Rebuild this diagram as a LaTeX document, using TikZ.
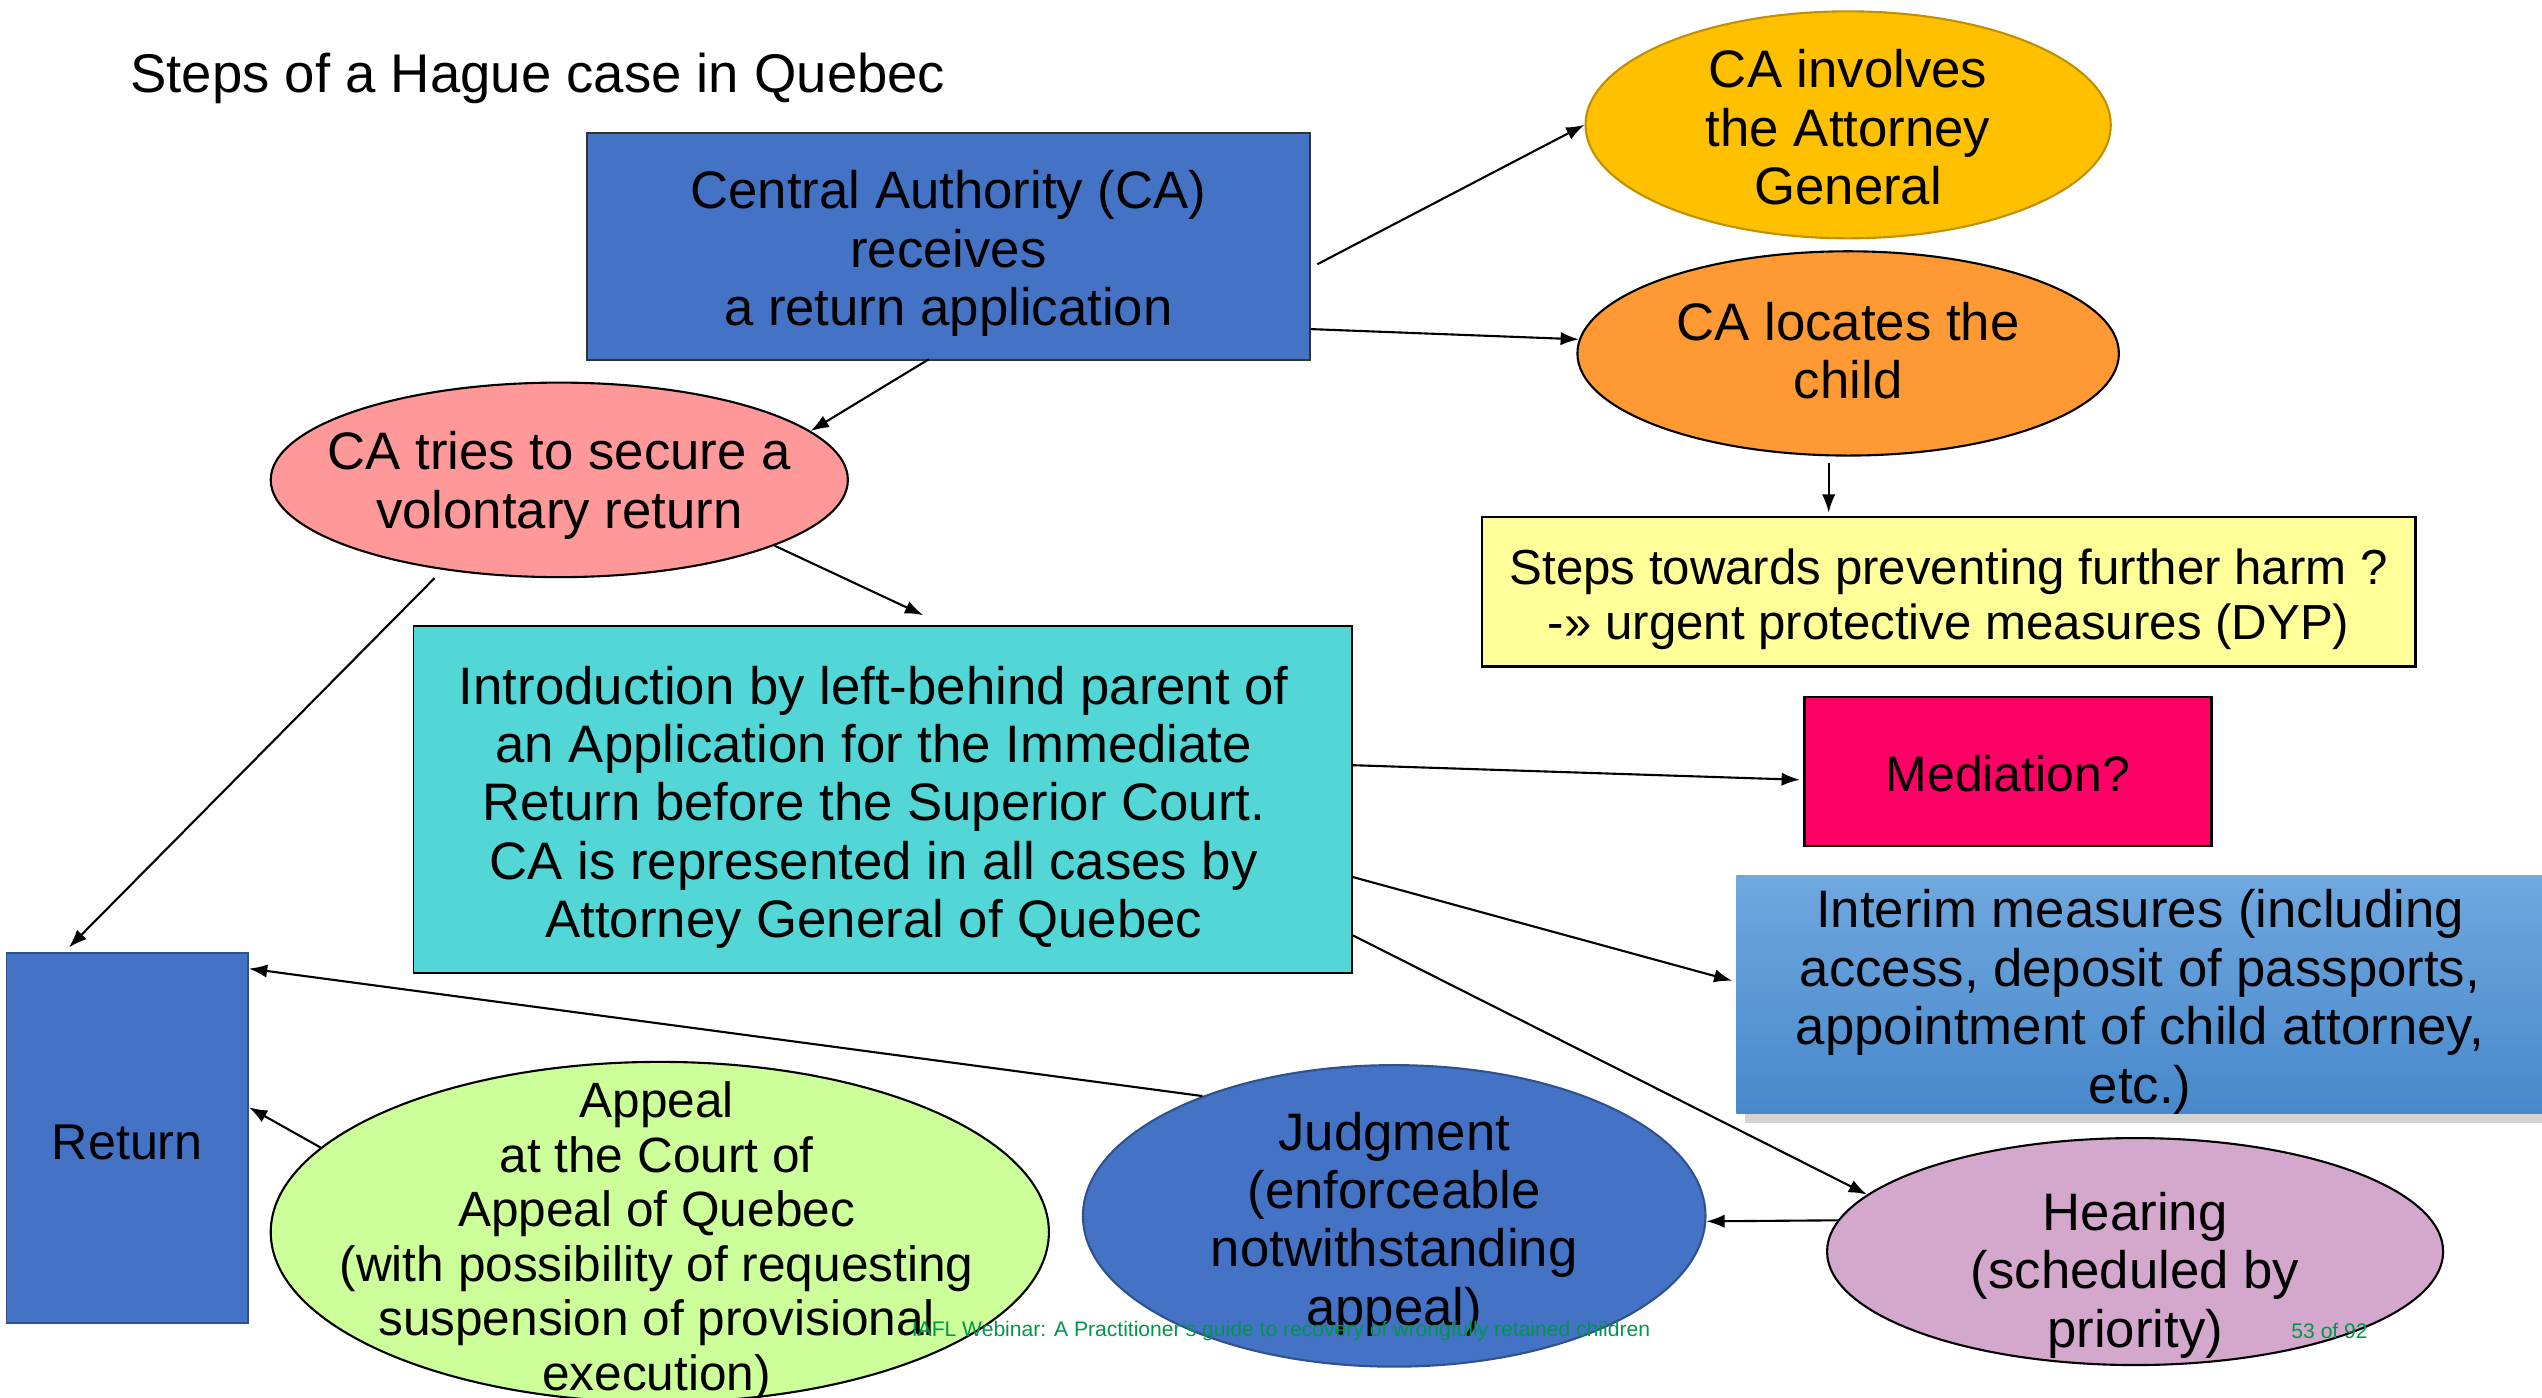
\documentclass[tikz,border=0pt]{standalone}
\usepackage{fontspec}
\setmainfont{Liberation Sans}
\usetikzlibrary{shapes.geometric,arrows.meta,shadows,calc}
\definecolor{cablue}{HTML}{4472C4}
\definecolor{cablueb}{HTML}{2F528F}
\definecolor{gold}{HTML}{FFC000}
\definecolor{goldb}{HTML}{BF9000}
\definecolor{orng}{HTML}{FF9933}
\definecolor{yel}{HTML}{FFFF99}
\definecolor{pinkf}{HTML}{FF9999}
\definecolor{teal2}{HTML}{52D6D6}
\definecolor{medc}{HTML}{FF0066}
\definecolor{intt}{HTML}{70A8DE}
\definecolor{intb}{HTML}{4788CC}
\definecolor{appc}{HTML}{CCFF99}
\definecolor{hear}{HTML}{D4A8CC}
\definecolor{foot}{HTML}{00964A}
\newcommand\fs{\fontsize{15pt}{16.6pt}\selectfont}
\newcommand\fsa{\fontsize{14.1pt}{15.5pt}\selectfont}
\def\U{0.01621cm}
\tikzset{
 box/.style={draw, rectangle, inner sep=0pt, line width=0.5pt},
 ell/.style={draw, ellipse, inner sep=0pt, line width=0.6pt},
 txt/.style={align=center, font=\fs, inner sep=0pt, yshift=-1.6pt},
 arr/.style={-{Latex[length=5.2pt,width=3.8pt]}, line width=0.6pt},
}
\begin{document}
\begin{tikzpicture}[x=0.01621cm,y=-0.01621cm]
\useasboundingbox (0,0) rectangle (1568,862);
% title
\node[txt, font=\fontsize{15.5pt}{17pt}\selectfont, anchor=west] (title) at (80,45) {Steps of a Hague case in Quebec};
% Central Authority
\node[box, fill=cablue, draw=black!80, minimum width=446*\U, minimum height=140*\U] (ca) at (585,152) {};
\node[txt] (catx) at (585,153) {Central Authority (CA)\\receives\\a return application};
% Attorney General
\node[ell, fill=gold, draw=goldb, minimum width=324*\U, minimum height=140*\U] (ag) at (1140,77) {};
\node[txt] (agtx) at (1140,75) {CA involves\\the Attorney\\General};
% locates
\node[ell, fill=orng, minimum width=334*\U, minimum height=126*\U] (loc) at (1140,218) {};
\node[txt] (loctx) at (1140,213) {CA locates the\\child};
% steps
\node[box, fill=yel, line width=0.7pt, minimum width=576*\U, minimum height=92*\U] (steps) at (1202,365) {};
\node[txt, font=\fontsize{14pt}{15.7pt}\selectfont] (stepstx) at (1202,366) {Steps towards preventing further harm ?\\-» urgent protective measures (DYP)};
% pink
\node[ell, fill=pinkf, minimum width=356*\U, minimum height=120*\U] (pink) at (345,296) {};
\node[txt] (pinktx) at (345,296) {CA tries to secure a\\volontary return};
% teal
\node[box, fill=teal2, minimum width=579*\U, minimum height=214*\U] (teal) at (544.5,493) {};
\node[txt] (tealtx) at (539,494.5) {Introduction by left-behind parent of\\an Application for the Immediate\\Return before the Superior Court.\\CA is represented in all cases by\\Attorney General of Quebec};
% mediation
\node[box, fill=medc, line width=0.7pt, minimum width=251*\U, minimum height=92*\U] (med) at (1238.5,476) {};
\node[txt, font=\fontsize{14.2pt}{16pt}\selectfont] (medtx) at (1238.5,474) {Mediation?};
% interim
\node[rectangle, inner sep=0pt, top color=intt, bottom color=intb, drop shadow={shadow xshift=2.5pt, shadow yshift=-2.5pt, opacity=0.35}, minimum width=497*\U, minimum height=147*\U] (int) at (1319.5,613.5) {};
\node[txt] (inttx) at (1320,614.5) {Interim measures (including\\access, deposit of passports,\\appointment of child attorney,\\etc.)};
% return
\node[box, fill=cablue, draw=cablueb, minimum width=149*\U, minimum height=228*\U] (ret) at (78.5,702) {};
\node[txt, font=\fontsize{14.3pt}{16pt}\selectfont] (rettx) at (78.5,701) {Return};
% appeal
\node[ell, fill=appc, minimum width=480*\U, minimum height=210*\U] (app) at (407,760) {};
\node[txt, font=\fsa] (apptx) at (405,762) {Appeal\\at the Court of\\Appeal of Quebec\\(with possibility of requesting\\suspension of provisional\\execution)};
% judgment
\node[ell, fill=cablue, draw=cablueb, minimum width=384*\U, minimum height=186*\U] (jud) at (860,750) {};
\node[txt] (judtx) at (860,751.5) {Judgment\\(enforceable\\notwithstanding\\appeal)};
% hearing
\node[ell, fill=hear, minimum width=380*\U, minimum height=140*\U] (hear) at (1317,772) {};
\node[txt] (heartx) at (1317,783) {Hearing\\(scheduled by\\priority)};
% footer
\node[anchor=west, inner sep=0pt, text=foot, font=\fontsize{6pt}{6.5pt}\selectfont] (foot1) at (562,821) {IAFL Webinar: A Practitioner's guide to recovery of wrongfully retained children};
\node[anchor=west, inner sep=0pt, text=foot, font=\fontsize{6pt}{6.5pt}\selectfont] (foot2) at (1413,821) {53 of 92};
% arrows
\draw[arr] ([shift={(4,11)}]ca.east) -- (ag.west);
\draw[arr] ([shift={(0,51)}]ca.east) -- (loc.177);
\draw[arr] ([shift={(-12,-1)}]ca.south) -- (pink.11);
\draw[arr] ([shift={(-12,4)}]loc.south) -- ([shift={(-74,-2)}]steps.north);
\draw[arr] (pink.-17) -- ([shift={(25,-6)}]teal.north);
\draw[arr] ([shift={(-77,0)}]pink.south) -- ([shift={(-36,-3)}]ret.north);
\draw[arr] ([shift={(0,-21)}]teal.east) -- ([shift={(-2,5)}]med.west);
\draw[arr] ([shift={(0,48)}]teal.east) -- ([shift={(-2,-8.5)}]int.west);
\draw[arr] ([shift={(0,84)}]teal.east) -- (hear.168);
\draw[arr] (hear.174) -- (jud.-1);
\draw[arr] (jud.148) -- ([shift={(0,10)}]ret.north east);
\draw[arr] (app.166) -- ([shift={(0,-19)}]ret.east);
\end{tikzpicture}
\end{document}
